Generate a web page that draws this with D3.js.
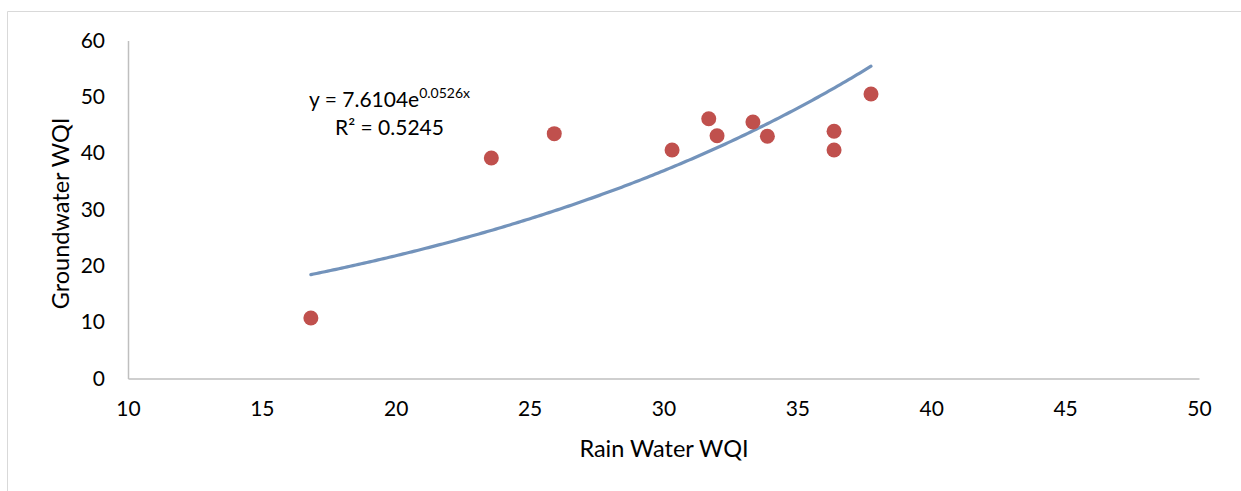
<!DOCTYPE html>
<html>
<head>
<meta charset="utf-8">
<script src="https://cdn.jsdelivr.net/npm/d3@7"></script>
<style>
  html, body { margin: 0; padding: 0; background: #fff; }
  svg { display: block; }
  text { font-family: Lato, "Open Sans", sans-serif; fill: #000; }
</style>
</head>
<body>
<svg id="chart" width="1241" height="491"></svg>
<script>
// Data
const rainWQI =        [16.83, 23.57, 25.92, 30.32, 31.69, 32.00, 33.34, 33.88, 36.37, 36.37, 37.75];
const groundwaterWQI = [10.74, 39.14, 43.46, 40.56, 46.12, 43.10, 45.53, 43.00, 43.88, 40.56, 50.50];
const xTicks = [10, 15, 20, 25, 30, 35, 40, 45, 50];
const yTicks = [0, 10, 20, 30, 40, 50, 60];
const trendA = 7.6104;
const trendB = 0.0526;
const eqText = "y = 7.6104e";
const eqExp = "0.0526x";
const r2Text = "R² = 0.5245";
const xTitle = "Rain Water WQI";
const yTitle = "Groundwater WQI";

const svg = d3.select("#chart");
const W = 1241, H = 491;

// outer chart border (top & left visible)
svg.append("line").attr("x1", 7.5).attr("y1", 11.5).attr("x2", W).attr("y2", 11.5)
  .attr("stroke", "#d9d9d9").attr("stroke-width", 1);
svg.append("line").attr("x1", 7.5).attr("y1", 11.5).attr("x2", 7.5).attr("y2", H)
  .attr("stroke", "#d9d9d9").attr("stroke-width", 1);

const x = d3.scaleLinear().domain([10, 50]).range([128, 1199]);
const y = d3.scaleLinear().domain([0, 60]).range([378.5, 40.5]);

// axes
const xAxis = d3.axisBottom(x).tickValues(xTicks).tickSize(0).tickPadding(22).tickFormat(d3.format("d"));
const gx = svg.append("g").attr("transform", `translate(0,${y(0)})`).call(xAxis);
gx.select(".domain").attr("stroke", "#bfbfbf").attr("stroke-width", 1.5);
gx.selectAll("text").style("font-size", "21px").attr("dy", "0.32em").attr("y", 31);

const yAxis = d3.axisLeft(y).tickValues(yTicks).tickSize(0).tickPadding(23).tickFormat(d3.format("d"));
const gy = svg.append("g").attr("transform", `translate(${x(10)},0)`).call(yAxis);
gy.select(".domain").attr("stroke", "#bfbfbf").attr("stroke-width", 1.5);
gy.selectAll("text").style("font-size", "21px");

// trendline
const xs = d3.range(0, 201).map(i => d3.min(rainWQI) + (d3.max(rainWQI) - d3.min(rainWQI)) * i / 200);
const line = d3.line().x(d => x(d)).y(d => y(trendA * Math.exp(trendB * d)));
svg.append("path").datum(xs).attr("d", line)
  .attr("fill", "none").attr("stroke", "#7393bb").attr("stroke-width", 3.2).attr("stroke-linecap", "round");

// points
svg.append("g").selectAll("circle").data(rainWQI).join("circle")
  .attr("cx", d => x(d)).attr("cy", (d, i) => y(groundwaterWQI[i]))
  .attr("r", 7.5).attr("fill", "#c0504d");

// equation label
const eq = svg.append("text").attr("x", 309).attr("y", 107).style("font-size", "21px");
eq.append("tspan").text(eqText);
eq.append("tspan").attr("dy", -9).style("font-size", "14px").text(eqExp);
svg.append("text").attr("x", 335).attr("y", 135).style("font-size", "21px").text(r2Text);

// axis titles
svg.append("text").attr("x", 664).attr("y", 457).attr("text-anchor", "middle")
  .style("font-size", "23.5px").text(xTitle);
svg.append("text").attr("transform", `translate(69,${(y(0) + y(60)) / 2 + 4}) rotate(-90)`)
  .attr("text-anchor", "middle").style("font-size", "23.5px").text(yTitle);
</script>
</body>
</html>
